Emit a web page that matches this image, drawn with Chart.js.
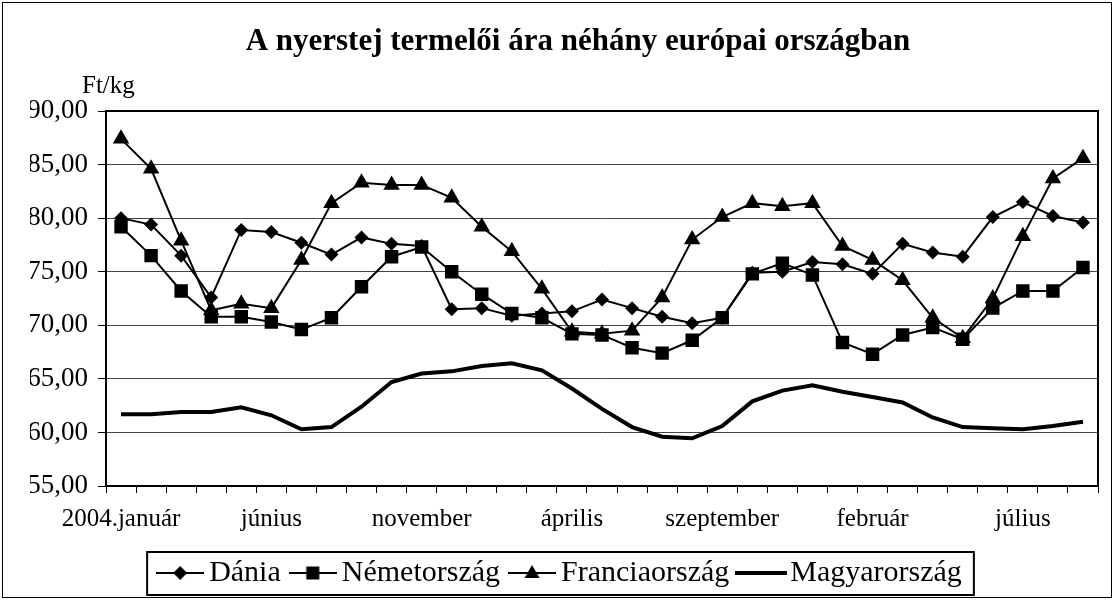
<!DOCTYPE html>
<html>
<head>
<meta charset="utf-8">
<script src="https://cdn.jsdelivr.net/npm/chart.js@4/dist/chart.umd.min.js"></script>
<style>
  html, body { margin: 0; padding: 0; background: #fff; }
</style>
</head>
<body>
<canvas id="milk" width="1114" height="600"></canvas>
<script>
// havi adatok 2004.január - 2006.szeptember, Ft/kg
var categories = ['2004.január', 'február', 'március', 'április', 'május', 'június', 'július', 'augusztus',
  'szeptember', 'október', 'november', 'december', 'január', 'február', 'március', 'április', 'május',
  'június', 'július', 'augusztus', 'szeptember', 'október', 'november', 'december', 'január', 'február',
  'március', 'április', 'május', 'június', 'július', 'augusztus', 'szeptember'];
var dania = [80.0, 79.4, 76.5, 72.6, 78.9, 78.7, 77.7, 76.6, 78.2, 77.6, 77.4, 71.5, 71.6, 70.9, 71.1, 71.3,
  72.4, 71.6, 70.8, 70.2, 70.7, 74.9, 75.0, 75.9, 75.7, 74.8, 77.6, 76.8, 76.4, 80.1, 81.5, 80.2, 79.6];
var nemetorszag = [79.2, 76.5, 73.2, 70.8, 70.8, 70.3, 69.6, 70.7, 73.6, 76.4, 77.3, 75.0, 72.9, 71.1, 70.7, 69.2,
  69.1, 67.9, 67.4, 68.6, 70.7, 74.8, 75.8, 74.7, 68.4, 67.3, 69.1, 69.8, 68.7, 71.6, 73.2, 73.2, 75.4];
var franciaorszag = [87.4, 84.6, 77.9, 71.4, 72.0, 71.6, 76.1, 81.4, 83.3, 83.1, 83.1, 81.9, 79.2, 76.9, 73.4, 69.4,
  69.2, 69.5, 72.6, 78.0, 80.1, 81.4, 81.1, 81.4, 77.4, 76.1, 74.2, 70.7, 68.8, 72.5, 78.3, 83.7, 85.6];
var magyarorszag = [61.7, 61.7, 61.9, 61.9, 62.35, 61.6, 60.3, 60.5, 62.4, 64.7, 65.5, 65.7, 66.2, 66.45, 65.8, 64.1,
  62.2, 60.5, 59.6, 59.45, 60.6, 62.9, 63.9, 64.4, 63.8, 63.3, 62.8, 61.4, 60.5, 60.4, 60.3, 60.6, 61.0];
var seriesNames = ['Dánia', 'Németország', 'Franciaország', 'Magyarország'];
var title = 'A nyerstej termelői ára néhány európai országban';
var unit = 'Ft/kg';

var FONT = "'Liberation Serif', 'Times New Roman', serif";

// legend icon: line + marker, like in excel
function legendIcon(shape, lw, w) {
  var c = document.createElement('canvas');
  c.width = w; c.height = 22;
  var g = c.getContext('2d');
  var m = w / 2;
  g.strokeStyle = '#000'; g.fillStyle = '#000';
  g.lineWidth = lw;
  g.beginPath(); g.moveTo(0, 11); g.lineTo(w, 11); g.stroke();
  g.beginPath();
  if (shape == 'diamond') {
    g.moveTo(m, 4); g.lineTo(m + 7, 11); g.lineTo(m, 18); g.lineTo(m - 7, 11);
  } else if (shape == 'square') {
    g.rect(m - 6.5, 4.5, 13, 13);
  } else if (shape == 'triangle') {
    g.moveTo(m, 3); g.lineTo(m + 7.5, 16); g.lineTo(m - 7.5, 16);
  }
  g.closePath(); g.fill();
  return c;
}
var icons = [legendIcon('diamond', 2, 48), legendIcon('square', 2, 48), legendIcon('triangle', 2, 48), legendIcon(null, 4, 52)];

var frame = {
  id: 'frame',
  afterDraw: function (chart) {
    var ctx = chart.ctx, a = chart.chartArea;
    ctx.save();
    ctx.strokeStyle = '#000';
    // plot border
    ctx.lineWidth = 2;
    ctx.strokeRect(a.left, a.top, a.right - a.left, a.bottom - a.top);
    // outer border
    ctx.lineWidth = 1;
    ctx.strokeRect(2.5, 2.5, 1109, 595);
    // legend box
    var hb = chart.legend.legendHitBoxes;
    if (hb && hb.length) {
      var l = hb[0].left, r = hb[hb.length - 1].left + hb[hb.length - 1].width;
      var t = hb[0].top;
      ctx.lineWidth = 2;
      ctx.strokeRect(l - 19, t - 6, r - l + 31, 43);
    }
    ctx.fillStyle = '#000';
    ctx.textBaseline = 'alphabetic';
    // title
    ctx.font = 'bold 31px ' + FONT;
    ctx.textAlign = 'center';
    ctx.fillText(title, 578, 50);
    // unit label
    ctx.font = '25px ' + FONT;
    ctx.textAlign = 'left';
    ctx.fillText(unit, 82, 93);
    ctx.restore();
  }
};

var chart = new Chart(document.getElementById('milk'), {
  type: 'line',
  data: {
    labels: categories,
    datasets: [
      { label: seriesNames[0], data: dania, borderColor: '#000', backgroundColor: '#000', borderWidth: 2,
        pointStyle: 'rectRot', pointRadius: 7, pointBorderWidth: 0, tension: 0 },
      { label: seriesNames[1], data: nemetorszag, borderColor: '#000', backgroundColor: '#000', borderWidth: 2,
        pointStyle: 'rect', pointRadius: 9.5, pointBorderWidth: 0, tension: 0 },
      { label: seriesNames[2], data: franciaorszag, borderColor: '#000', backgroundColor: '#000', borderWidth: 2,
        pointStyle: 'triangle', pointRadius: 9.5, pointBorderWidth: 0, tension: 0 },
      { label: seriesNames[3], data: magyarorszag, borderColor: '#000', backgroundColor: '#000', borderWidth: 4,
        pointRadius: 0, tension: 0 }
    ]
  },
  options: {
    responsive: false,
    animation: false,
    devicePixelRatio: 1,
    layout: { padding: { left: 30, right: 16, top: 111, bottom: 2 } },
    plugins: {
      title: { display: false },
      legend: {
        position: 'bottom',
        labels: {
          usePointStyle: true,
          pointStyleWidth: 28,
          color: '#000',
          font: { family: FONT, size: 30 },
          padding: 18,
          generateLabels: function (ch) {
            return ch.data.datasets.map(function (ds, i) {
              return { text: ds.label, pointStyle: icons[i], datasetIndex: i, hidden: false, lineWidth: 0, fontColor: '#000' };
            });
          }
        }
      },
      tooltip: { enabled: false }
    },
    scales: {
      x: {
        offset: true,
        afterFit: function (s) { s.height = 54; },
        grid: { display: true, offset: true, drawOnChartArea: false, tickLength: 7, color: '#000' },
        border: { display: true, color: '#000', width: 2 },
        ticks: {
          autoSkip: false, maxRotation: 0, padding: 11, color: '#000',
          font: { family: FONT, size: 25 },
          callback: function (v, i) { return i % 5 == 0 ? this.getLabelForValue(v) : ''; }
        }
      },
      y: {
        min: 55, max: 90,
        afterFit: function (s) { s.width = 76; },
        grid: { color: '#444', tickLength: 8, tickColor: '#000' },
        border: { display: true, color: '#000', width: 2 },
        ticks: {
          stepSize: 5, padding: 10, color: '#000',
          font: { family: FONT, size: 27 },
          callback: function (v) { return v.toFixed(2).replace('.', ','); }
        }
      }
    }
  },
  plugins: [frame]
});
</script>
</body>
</html>
